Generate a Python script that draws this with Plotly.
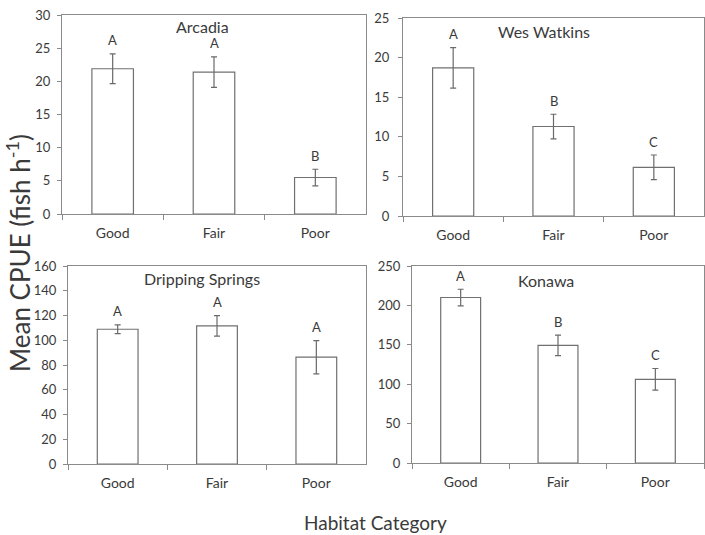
import plotly.graph_objects as go

categories = ["Good", "Fair", "Poor"]
sites = ["Arcadia", "Wes Watkins", "Dripping Springs", "Konawa"]
arcadia_mean = [21.9, 21.4, 5.5]
arcadia_err = [2.25, 2.3, 1.25]
wes_mean = [18.7, 11.3, 6.15]
wes_err = [2.55, 1.55, 1.55]
dripping_mean = [108.9, 111.6, 86.3]
dripping_err = [3.6, 8.3, 13.4]
konawa_mean = [210, 149.2, 106.2]
konawa_err = [10.5, 13.0, 13.7]
letters = [["A", "A", "B"], ["A", "B", "C"], ["A", "A", "A"], ["A", "B", "C"]]
y_max = [30, 25, 160, 250]
y_dtick = [5, 5, 20, 50]

means = [arcadia_mean, wes_mean, dripping_mean, konawa_mean]
errs = [arcadia_err, wes_err, dripping_err, konawa_err]

W, H = 705, 535
# target pixel boxes: left, right, top, bottom
boxes = [(62, 366, 15, 214), (403, 704, 18, 216), (68, 366, 266, 464), (412, 704, 266, 463)]
title_pos = [(202, 26), (544, 31), (202, 278.5), (546, 280)]
ylab_standoff = [4, 6, 4, 4]


def px(x):
    return x / W


def py(y):
    return 1 - y / H


FONT = "Lato, Open Sans, sans-serif"
TXT = "#3a3a3a"
AX = "#8a8a8a"

fig = go.Figure()
layout = dict(
    width=W, height=H, margin=dict(l=0, r=0, t=0, b=0, autoexpand=False),
    paper_bgcolor="white", plot_bgcolor="white", showlegend=False,
    font=dict(family=FONT, color=TXT, size=13),
)
annotations = []
for i in range(4):
    sfx = "" if i == 0 else str(i + 1)
    l, r, t, b = boxes[i]
    fig.add_trace(go.Bar(
        x=categories, y=means[i], xaxis="x" + sfx, yaxis="y" + sfx,
        marker=dict(color="white", line=dict(color="#707070", width=1.2)),
        error_y=dict(type="data", array=errs[i], visible=True, color="#6a6a6a", thickness=1.2, width=3),
        width=0.41, hoverinfo="skip",
    ))
    layout["xaxis" + sfx] = dict(
        domain=[px(l), px(r)], anchor="y" + sfx, type="category",
        showline=True, linecolor=AX, linewidth=1.2, mirror=True,
        ticks="outside", tickson="boundaries", ticklen=5, tickcolor=AX,
        ticklabelstandoff=6, automargin=False, ticklabeloverflow="allow",
        showgrid=False, tickfont=dict(size=14, color=TXT), fixedrange=True,
    )
    layout["yaxis" + sfx] = dict(
        domain=[py(b), py(t)], anchor="x" + sfx,
        range=[0, y_max[i]], dtick=y_dtick[i], tick0=0,
        showline=True, linecolor=AX, linewidth=1.2, mirror=True,
        ticks="outside", ticklen=4, tickcolor=AX, showgrid=False, zeroline=False,
        ticklabelstandoff=ylab_standoff[i], automargin=False, ticklabeloverflow="allow",
        tickfont=dict(size=13, color=TXT), fixedrange=True,
    )
    for j, c in enumerate(categories):
        annotations.append(dict(
            x=c, y=means[i][j] + errs[i][j], xref="x" + sfx, yref="y" + sfx,
            text=letters[i][j], showarrow=False, yanchor="bottom", yshift=3.5,
            font=dict(size=13, color=TXT),
        ))
    tx, ty = title_pos[i]
    annotations.append(dict(
        x=px(tx), y=py(ty), xref="paper", yref="paper", text=sites[i],
        showarrow=False, xanchor="center", yanchor="middle",
        font=dict(size=16, color=TXT),
    ))

annotations.append(dict(
    x=px(18), y=py(253), xref="paper", yref="paper",
    text="Mean CPUE (fish h<sup>-1</sup>)", textangle=-90, showarrow=False,
    xanchor="center", yanchor="middle", font=dict(size=26, color=TXT),
))
annotations.append(dict(
    x=px(375), y=py(522), xref="paper", yref="paper",
    text="Habitat Category", showarrow=False,
    xanchor="center", yanchor="middle", font=dict(size=19, color=TXT),
))
layout["annotations"] = annotations
fig.update_layout(**layout)
# remove the browser's default page margin so the figure fills the window exactly
fig.write_html("out.html", config={"displayModeBar": False},
               post_script="document.body.style.margin='0';")
